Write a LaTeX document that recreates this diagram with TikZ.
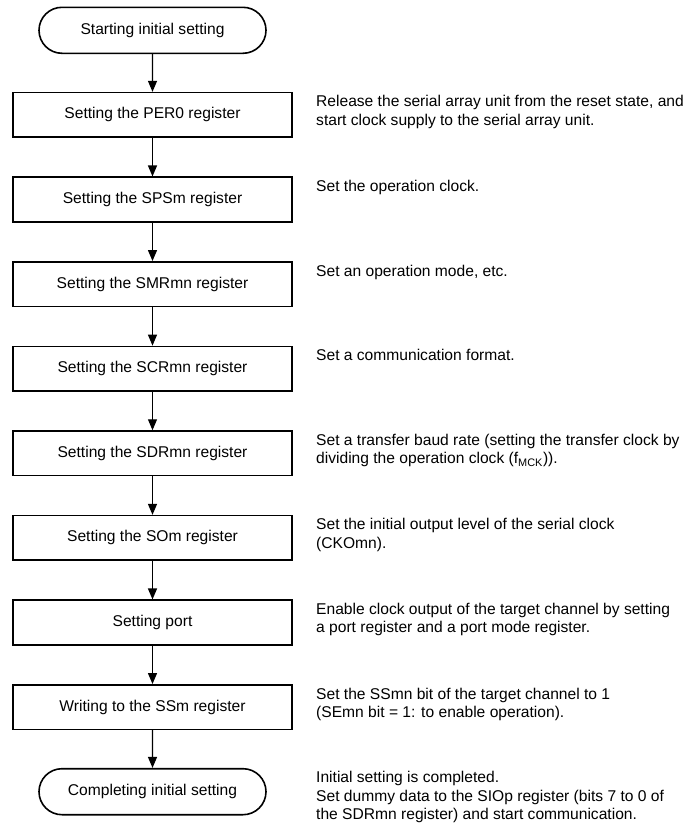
\documentclass[tikz,border=0pt]{standalone}
\usepackage{fontspec}
\setmainfont{Liberation Sans}
\usetikzlibrary{arrows.meta,shapes.misc}
\begin{document}
\begin{tikzpicture}[x=1pt,y=-1pt,
  txt/.style={font=\fontsize{15.6}{18.3}\selectfont},
  boxnode/.style={draw,line width=1.6pt,minimum width=279pt,minimum height=44.5pt,inner sep=0pt,txt},
  termnode/.style={draw,line width=1.6pt,rounded rectangle,minimum width=227pt,minimum height=46pt,inner sep=0pt,txt},
  note/.style={anchor=north west,inner sep=0pt,align=left,txt},
  flow/.style={line width=1.2pt,-{Triangle[length=11pt,width=9pt]}}]
\useasboundingbox (0,0) rectangle (693,828);
\def\sx{152.5}
\def\nx{316}
% flow nodes
\node[termnode] (s)  at (\sx,30.3)  {Starting initial setting};
\node[boxnode]  (b1) at (\sx,114.9) {Setting the PER0 register};
\node[boxnode]  (b2) at (\sx,199.5) {Setting the SPSm register};
\node[boxnode]  (b3) at (\sx,284.1) {Setting the SMRmn register};
\node[boxnode]  (b4) at (\sx,368.7) {Setting the SCRmn register};
\node[boxnode]  (b5) at (\sx,453.3) {Setting the SDRmn register};
\node[boxnode]  (b6) at (\sx,537.9) {Setting the SOm register};
\node[boxnode]  (b7) at (\sx,622.5) {Setting port};
\node[boxnode]  (b8) at (\sx,707.1) {Writing to the SSm register};
\node[termnode] (e)  at (\sx,791.7) {Completing initial setting};
% connectors
\draw[flow] (s) -- (b1);
\draw[flow] (b1) -- (b2);
\draw[flow] (b2) -- (b3);
\draw[flow] (b3) -- (b4);
\draw[flow] (b4) -- (b5);
\draw[flow] (b5) -- (b6);
\draw[flow] (b6) -- (b7);
\draw[flow] (b7) -- (b8);
\draw[flow] (b8) -- (e);
% notes
\node[note] (n1) at (\nx,94.6)  {\rule{0pt}{12pt}Release the serial array unit from the reset state, and\\start clock supply to the serial array unit.};
\node[note] (n2) at (\nx,179.2) {\rule{0pt}{12pt}Set the operation clock.};
\node[note] (n3) at (\nx,263.8) {\rule{0pt}{12pt}Set an operation mode, etc.};
\node[note] (n4) at (\nx,348.4) {\rule{0pt}{12pt}Set a communication format.};
\node[note] (n5) at (\nx,433.0) {\rule{0pt}{12pt}Set a transfer baud rate (setting the transfer clock by\\dividing the operation clock (f\textsubscript{MCK})).};
\node[note] (n6) at (\nx,517.6) {\rule{0pt}{12pt}Set the initial output level of the serial clock\\(CKOmn).};
\node[note] (n7) at (\nx,602.2) {\rule{0pt}{12pt}Enable clock output of the target channel by setting\\a port register and a port mode register.};
\node[note] (n8) at (\nx,686.8) {\rule{0pt}{12pt}Set the SSmn bit of the target channel to 1\\(SEmn bit = 1: to enable operation).};
\node[note] (n9) at (\nx,770.7) {\rule{0pt}{12pt}Initial setting is completed.\\Set dummy data to the SIOp register (bits 7 to 0 of\\the SDRmn register) and start communication.};
\end{tikzpicture}
\end{document}
